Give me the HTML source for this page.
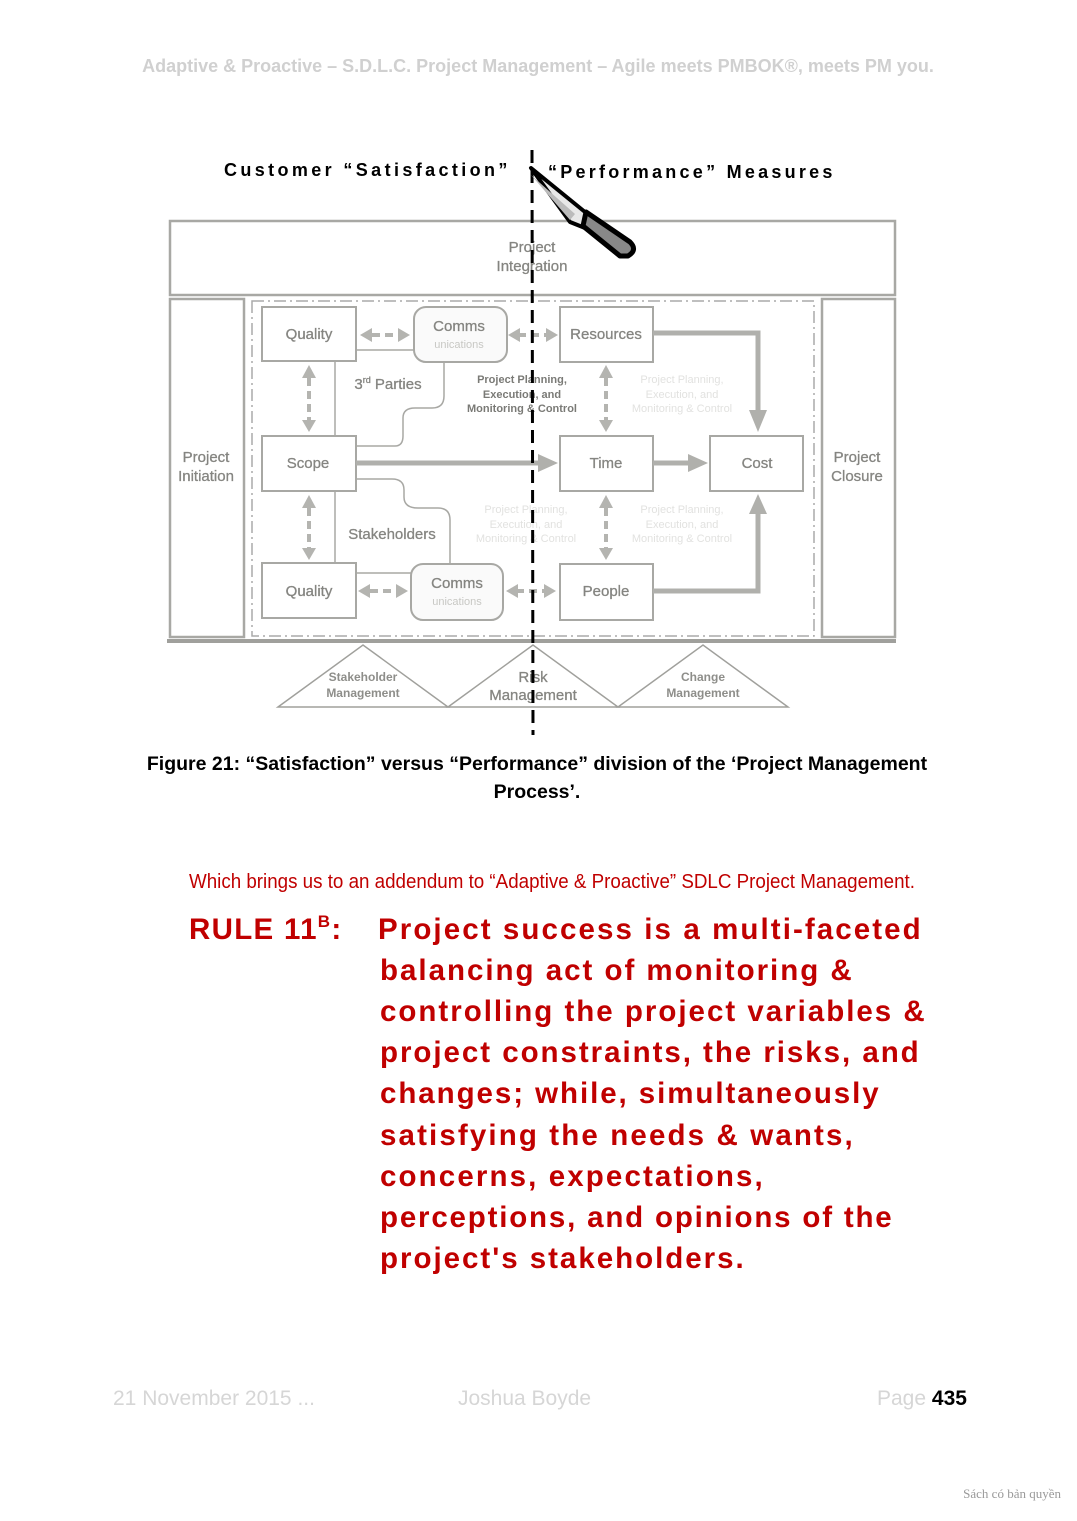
<!DOCTYPE html>
<html><head><meta charset="utf-8"><style>
html,body{margin:0;padding:0;background:#fff}
svg{display:block}
</style></head><body>
<svg width="1077" height="1521" viewBox="0 0 1077 1521" xmlns="http://www.w3.org/2000/svg" font-family="Liberation Sans, sans-serif">
<text x="538" y="72" text-anchor="middle" font-size="18" font-weight="bold" fill="#d0d0d0">Adaptive &amp; Proactive – S.D.L.C. Project Management – Agile meets PMBOK®, meets PM you.</text>

<text x="224" y="176" font-size="18" font-weight="bold" letter-spacing="2.6" font-family="Liberation Sans, sans-serif" textLength="286">Customer “Satisfaction”</text>
<text x="548" y="178" font-size="18" font-weight="bold" letter-spacing="2.6" font-family="Liberation Sans, sans-serif" textLength="287">“Performance” Measures</text>

<g stroke="#a8a8a4" fill="none" stroke-width="2.5">
<rect x="170" y="221" width="725" height="74"/>
<rect x="170" y="299" width="74" height="338"/>
<rect x="822" y="299" width="73" height="338"/>
</g>
<rect x="252" y="301" width="562" height="335" fill="none" stroke="#aaa" stroke-width="1.5" stroke-dasharray="12,4,2,4"/>
<line x1="167" y1="641" x2="896" y2="641" stroke="#a0a09c" stroke-width="4"/>

<g stroke="#a8a8a4" fill="none" stroke-width="1.5">
<path d="M356 350 H415"/>
<path d="M335 361 V436"/>
<path d="M356 446 H395 Q403 446 403 436 V418 Q403 408 415 408 H432 Q444 408 444 396 V362"/>
<path d="M356 479 H392 Q404 479 404 490 V497 Q404 508 418 508 H438 Q450 508 450 520 V566"/>
<path d="M335 491 V563"/>
<path d="M356 573 H412"/>
</g>
<g stroke="#a8a8a4" fill="#fff" stroke-width="2">
<rect x="262" y="307" width="94" height="54"/>
<rect x="414" y="307" width="93" height="55" rx="12" fill="#fafafa"/>
<rect x="560" y="307" width="93" height="55"/>
<rect x="262" y="436" width="94" height="55"/>
<rect x="560" y="436" width="93" height="55"/>
<rect x="710" y="436" width="93" height="55"/>
<rect x="262" y="563" width="94" height="55"/>
<rect x="411" y="564" width="92" height="56" rx="12" fill="#fafafa"/>
<rect x="560" y="564" width="93" height="56"/>
</g>
<g fill="none" stroke="#b0b0ac" stroke-width="5">
<path d="M356 463 H540"/>
<path d="M653 463 H690"/>
<path d="M653 333 H758 V410"/>
<path d="M653 591 H758 V512"/>
</g>
<g fill="#b0b0ac">
<polygon points="538,454 558,463 538,472"/>
<polygon points="688,454 708,463 688,472"/>
<polygon points="749,410 767,410 758,432"/>
<polygon points="749,514 767,514 758,494"/>
</g>
<g fill="#b4b4b0" stroke="#b4b4b0">
<g stroke-width="4" stroke-dasharray="8,5"><line x1="372" y1="335" x2="400" y2="335"/><line x1="518" y1="335" x2="548" y2="335"/><line x1="370" y1="591" x2="398" y2="591"/><line x1="516" y1="591" x2="548" y2="591"/>
<line x1="309" y1="378" x2="309" y2="420"/><line x1="309" y1="508" x2="309" y2="548"/><line x1="606" y1="378" x2="606" y2="420"/><line x1="606" y1="508" x2="606" y2="548"/></g>
<g stroke="none">
<polygon points="360,335 372,328 372,342"/><polygon points="410,335 398,328 398,342"/>
<polygon points="508,335 520,328 520,342"/><polygon points="558,335 546,328 546,342"/>
<polygon points="358,591 370,584 370,598"/><polygon points="408,591 396,584 396,598"/>
<polygon points="506,591 518,584 518,598"/><polygon points="556,591 544,584 544,598"/>
<polygon points="309,365 302,378 316,378"/><polygon points="309,432 302,420 316,420"/>
<polygon points="309,495 302,508 316,508"/><polygon points="309,560 302,548 316,548"/>
<polygon points="606,365 599,378 613,378"/><polygon points="606,432 599,420 613,420"/>
<polygon points="606,495 599,508 613,508"/><polygon points="606,560 599,548 613,548"/>
</g></g>

<g fill="#858581" font-size="15" text-anchor="middle" stroke="#858581" stroke-width="0.3">
<text x="532" y="252">Project</text><text x="532" y="271">Integration</text>
<text x="206" y="462">Project</text><text x="206" y="481">Initiation</text>
<text x="857" y="462">Project</text><text x="857" y="481">Closure</text>
<text x="309" y="339">Quality</text>
<text x="459" y="331">Comms</text>
<text x="606" y="339">Resources</text>
<text x="388" y="389">3<tspan font-size="9" dy="-6">rd</tspan><tspan dy="6"> Parties</tspan></text>
<text x="308" y="468">Scope</text>
<text x="606" y="468">Time</text>
<text x="757" y="468">Cost</text>
<text x="392" y="539">Stakeholders</text>
<text x="309" y="596">Quality</text>
<text x="457" y="588">Comms</text>
<text x="606" y="596">People</text>
</g>
<g fill="#c8c8c4" font-size="11" text-anchor="middle">
<text x="459" y="348">unications</text><text x="457" y="605">unications</text>
</g>
<g fill="#7a7a76" font-size="11" font-weight="bold" text-anchor="middle">
<text x="522" y="383">Project Planning,</text><text x="522" y="398">Execution, and</text><text x="522" y="412">Monitoring &amp; Control</text>
</g>
<g fill="#e2e2e0" font-size="11" text-anchor="middle">
<text x="682" y="383">Project Planning,</text><text x="682" y="398">Execution, and</text><text x="682" y="412">Monitoring &amp; Control</text>
<text x="526" y="513">Project Planning,</text><text x="526" y="528">Execution, and</text><text x="526" y="542">Monitoring &amp; Control</text>
<text x="682" y="513">Project Planning,</text><text x="682" y="528">Execution, and</text><text x="682" y="542">Monitoring &amp; Control</text>
</g>

<g stroke="#a0a09c" fill="none" stroke-width="1.5">
<path d="M278 707 L363 645 L448 707 Z"/>
<path d="M448 707 L533 645 L618 707 Z"/>
<path d="M618 707 L703 645 L788 707 Z"/>
</g>
<g fill="#8e8e8a" text-anchor="middle" font-weight="bold" font-size="12">
<text x="363" y="681">Stakeholder</text><text x="363" y="697">Management</text>
<text x="703" y="681">Change</text><text x="703" y="697">Management</text>
</g>
<g fill="#858581" text-anchor="middle" font-size="15" stroke="#858581" stroke-width="0.3">
<text x="533" y="682">Risk</text><text x="533" y="700">Management</text>
</g>

<line x1="532" y1="150" x2="533" y2="735" stroke="#000" stroke-width="3" stroke-dasharray="13,7"/>
<path d="M531 168 L585 212 L596 222 L590 230 L570 222 Z" fill="#e8e8e8" stroke="#000" stroke-width="4" stroke-linejoin="round"/>
<path d="M531 175 L575 214 L570 220 Z" fill="#bbb"/>
<path d="M586 212 L630 242 Q638 250 628 256 L620 256 L583 226 Z" fill="#888" stroke="#000" stroke-width="5" stroke-linejoin="round"/>

<g font-family="Liberation Sans, sans-serif" font-weight="bold" font-size="19.5" text-anchor="middle">
<text x="537" y="770">Figure 21: “Satisfaction” versus “Performance” division of the ‘Project Management</text>
<text x="537" y="798">Process’.</text>
</g>

<text x="552" y="888" text-anchor="middle" font-size="20" fill="#c00000" font-family="Liberation Sans Narrow, Liberation Sans, sans-serif" textLength="726" lengthAdjust="spacingAndGlyphs">Which brings us to an addendum to “Adaptive &amp; Proactive” SDLC Project Management.</text>

<g fill="#c00000" font-weight="bold" font-size="29.5" letter-spacing="1.3">
<text x="189" y="939">RULE 11<tspan font-size="17" dy="-12">B</tspan><tspan dy="12">:</tspan></text>
<text x="378" y="939" textLength="544">Project success is a multi-faceted</text>
<text x="380" y="980" textLength="473">balancing act of monitoring &amp;</text>
<text x="380" y="1021" textLength="546">controlling the project variables &amp;</text>
<text x="380" y="1062" textLength="540">project constraints, the risks, and</text>
<text x="380" y="1103" textLength="500">changes; while, simultaneously</text>
<text x="380" y="1145" textLength="474">satisfying the needs &amp; wants,</text>
<text x="380" y="1186" textLength="384">concerns, expectations,</text>
<text x="380" y="1227" textLength="513">perceptions, and opinions of the</text>
<text x="380" y="1268" textLength="365">project's stakeholders.</text>
</g>

<g font-size="21" fill="#d6d6d6">
<text x="113" y="1405">21 November 2015 ...</text>
<text x="458" y="1405">Joshua Boyde</text>
<text x="877" y="1405">Page <tspan fill="#000" font-weight="bold">435</tspan></text>
</g>
<text x="1061" y="1498" text-anchor="end" font-size="13" fill="#999" font-family="Liberation Serif, serif">Sách có bản quyền</text>
</svg>
</body></html>
